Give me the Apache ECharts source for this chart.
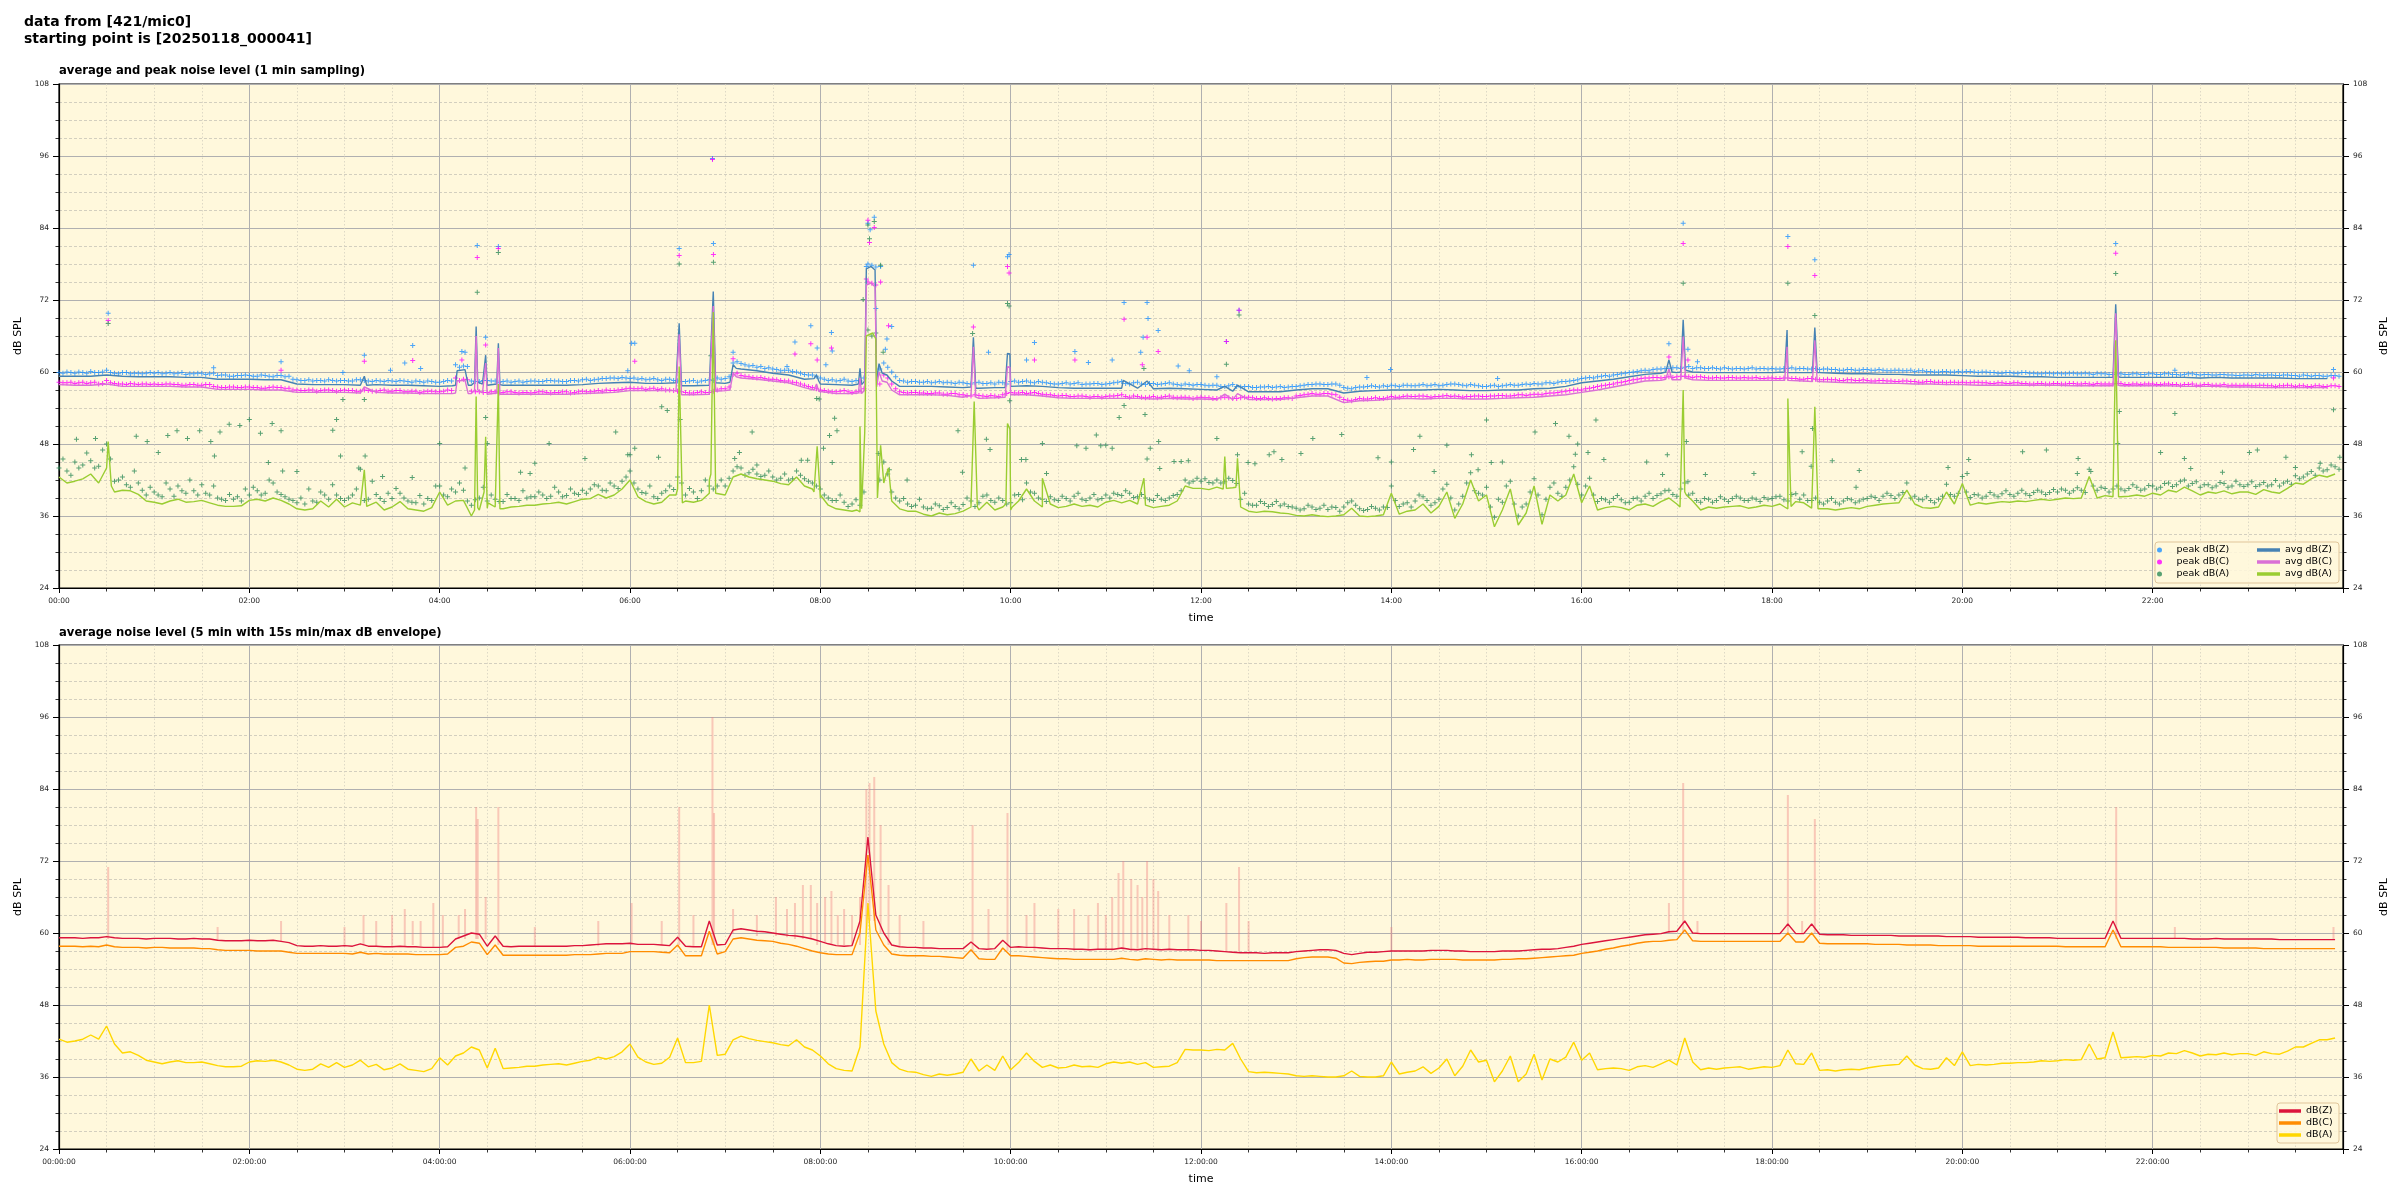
<!DOCTYPE html>
<html><head><meta charset="utf-8">
<script src="https://cdn.jsdelivr.net/npm/echarts@6/dist/echarts.min.js"></script>
<style>html,body{margin:0;padding:0;background:#fff}#c{width:2400px;height:1200px}</style>
</head><body><div id="c"></div><script>
// ---------- DATA (time in minutes from 00:00) ----------
// top chart: 1-min averages, read at 10-min steps (Z, C) and 5-min steps (A)
const avgZ10 = [
59.3,59.3,59.3,59.5,59.3,59.2, 59.2,59.2,59.1,59.1,58.8,58.8, 58.8,58.7,58.7,58.0,57.9,57.9, 57.9,57.8,57.9,57.8,57.8,57.7,
57.6,57.8,57.8,57.8,57.8,57.8, 57.8,57.8,57.8,57.9,58.1,58.2, 58.3,58.1,58.1,57.9,57.7,57.8, 58.1,60.5,60.2,59.8,59.5,58.8,
58.0,57.9,57.8,77.5,59.7,57.6, 57.6,57.6,57.5,57.4,57.3,57.4, 57.6,57.7,57.6,57.4,57.3,57.3, 57.3,57.3,57.3,57.2,57.3,57.2,
57.1,57.0,56.8,56.7,56.7,56.7, 57.0,57.2,57.2,56.5,56.8,56.9, 57.0,57.0,57.0,57.1,57.0,56.9, 56.9,57.0,57.0,57.2,57.3,57.6,
58.2,58.5,58.8,59.2,59.6,59.8, 59.9,60.0,59.9,59.9,59.9,59.9, 59.9,59.9,59.9,59.9,59.8,59.7, 59.7,59.6,59.6,59.5,59.5,59.5,
59.4,59.3,59.3,59.3,59.2,59.2, 59.1,59.1,59.1,59.1,59.1,59.1, 59.1,59.1,59.1,59.0,59.1,59.0, 59.0,59.0,59.0,58.9,58.9,58.9];
const spikesZ = [[31,59.8],[191,57.9],[192.5,59.3],[194,57.8],
[248,57.7],[251,60.2],[256,60.4],[258,57.8],[262,58.3],[263,67.6],[264,58.3],[267,58.0],[269,62.8],[270.5,57.9],[276,58.0],[277,64.8],[278,57.9],
[389,58.2],[391,68.1],[392.5,57.7],[411,58.0],[412.5,73.4],[414,58.2],[423,58.3],[425,61.2],[427,60.6],[476,58.9],[477.6,59.5],[479,58.5],
[504,58.0],[505,60.6],[506,57.9],[508,58.5],[509,77.2],[512,77.6],[514.5,77.0],[515.5,58.5],[517,61.4],[519,59.8],[522,59.5],[525,58.5],
[575,57.5],[576.5,65.8],[578,57.3],[596.5,57.4],[598,63.1],[599.5,63.0],[601,57.6],[671,58.6],[686,58.5],[735,57.6],[743,57.8],
[1013,60.0],[1015,62.0],[1017,60.0],[1022.5,60.0],[1024,68.7],[1025.5,60.3],[1088,60.0],[1089.5,67.0],[1091,60.0],[1105.5,59.9],[1107,67.4],[1108.5,59.9],
[1295,59.1],[1296.7,71.3],[1298.5,59.2]];
const avgC10 = [
57.9,57.8,57.8,58.0,57.6,57.6, 57.6,57.6,57.5,57.5,57.1,57.1, 57.1,57.0,57.0,56.6,56.6,56.6, 56.6,56.5,56.6,56.5,56.5,56.4,
56.4,56.5,56.4,56.3,56.3,56.3, 56.3,56.3,56.3,56.4,56.5,56.6, 56.9,56.9,56.9,56.6,56.2,56.3, 56.9,59.0,58.8,58.5,58.2,57.4,
56.6,56.4,56.4,74.6,58.5,56.2, 56.2,56.2,56.1,55.8,55.6,55.7, 56.2,56.2,56.0,55.7,55.6,55.6, 55.6,55.6,55.6,55.5,55.6,55.5,
55.5,55.4,55.4,55.4,55.4,55.4, 55.7,56.0,56.0,54.9,55.2,55.3, 55.5,55.6,55.5,55.6,55.6,55.5, 55.5,55.6,55.7,55.8,56.0,56.2,
56.6,57.0,57.5,58.0,58.5,58.6, 58.7,58.7,58.6,58.6,58.6,58.6, 58.6,58.6,58.5,58.4,58.3,58.2, 58.2,58.1,58.1,58.0,58.0,57.9,
57.9,57.8,57.8,57.8,57.8,57.8, 57.8,57.7,57.7,57.7,57.7,57.7, 57.7,57.7,57.6,57.6,57.6,57.5, 57.5,57.4,57.4,57.4,57.4,57.4];
const spikesC = [[31,58.3],[192.5,57.5],
[248,56.4],[251,58.5],[256,58.6],[258,56.4],[262,57.0],[263,66.0],[264,57.0],[267,56.5],[269,61.5],[270.5,56.4],[276,56.5],[277,64.0],[278,56.3],
[389,56.9],[391,66.3],[392.5,56.2],[411,56.5],[412.5,71.0],[414,56.8],[423,57.0],[425,59.8],[427,59.2],[476,57.0],[477.6,58.0],[479,56.8],
[504,56.5],[505,59.0],[506,56.4],[508,57.0],[509,74.5],[512,74.8],[514.5,74.2],[515.5,57.5],[517,60.0],[519,58.5],[522,58.3],[525,57.0],
[575,56.1],[576.5,64.2],[578,55.8],[596.5,55.8],[598,60.9],[599.5,60.8],[601,56.2],[735,56.3],[743,56.4],
[1013,58.8],[1015,60.5],[1017,58.7],[1022.5,58.7],[1024,65.9],[1025.5,59.0],[1088,58.6],[1089.5,64.2],[1091,58.6],[1105.5,58.4],[1107,65.3],[1108.5,58.4],
[1295,57.7],[1296.7,69.8],[1298.5,57.8]];
const avgA5 = [
42.5,41.5,41.8,42.2,43.0,41.5,44.0,40.0,40.3,40.2,39.6,38.5,
38.3,38.0,38.5,38.8,38.3,38.4,38.6,38.2,37.8,37.6,37.6,37.7,
38.6,38.8,38.5,39.0,38.6,38.0,37.2,37.0,37.2,38.5,37.5,38.8,
37.5,38.2,37.8,37.6,38.3,37.0,37.5,38.4,37.2,37.0,36.8,37.4,
40.0,37.8,38.5,38.6,36.0,37.0,37.3,37.5,37.2,37.5,37.6,37.8,
37.8,38.0,38.1,38.3,38.0,38.4,38.8,38.9,39.6,39.0,39.5,40.5,
42.0,39.2,38.4,38.0,38.3,39.5,40.5,38.5,38.3,38.6,39.8,39.5,
39.5,42.5,43.0,42.5,42.2,42.0,41.8,41.4,41.2,42.5,41.0,40.5,
39.0,37.8,37.2,37.0,36.8,36.7,66.2,65.5,41.5,38.5,37.2,36.8,
36.8,36.3,36.0,36.5,36.2,36.4,36.8,37.5,37.0,38.3,37.0,37.5,
37.0,38.5,40.5,38.5,37.5,38.0,37.4,37.6,38.0,37.6,37.8,37.5,
38.3,38.6,38.2,38.6,38.0,37.8,37.4,37.6,37.8,38.5,41.0,40.6,
40.6,40.4,40.8,40.6,40.7,37.5,36.8,36.6,36.8,36.7,36.5,36.4,
36.1,36.0,36.2,36.0,35.9,36.0,36.2,37.3,36.0,35.9,36.0,36.2,
39.8,36.3,36.8,37.0,38.0,36.5,37.6,40.0,35.6,38.0,42.0,38.5,
39.5,34.2,37.0,40.5,34.5,36.5,41.0,34.6,39.5,38.5,39.5,43.0,
38.2,41.0,37.0,37.4,37.6,37.4,37.0,37.8,38.0,37.6,38.4,39.0,
38.0,40.0,38.5,37.0,37.5,37.3,37.5,37.6,37.7,37.3,37.5,37.8,
37.6,38.0,37.2,38.4,38.2,37.3,37.0,37.2,37.0,37.2,37.4,37.2,
37.6,37.8,38.0,38.1,38.2,40.3,38.0,37.4,37.3,37.5,40.0,38.0,
41.4,37.8,38.2,38.0,38.2,38.4,38.3,38.5,38.4,38.6,38.8,38.6,
38.8,39.0,38.9,39.0,42.6,39.0,39.4,39.2,39.2,39.3,39.5,39.3,
39.8,39.5,40.3,40.0,40.8,40.2,39.5,40.0,39.8,40.2,39.7,40.0,
40.0,39.6,40.4,40.0,39.8,40.6,41.5,41.3,42.2,42.8,42.5,43.0];
const spikesA = [[31,48.4],[33,41.0],[191,37.8],[192.5,43.7],[194,37.6],
[262,37.0],[263,55.9],[264,37.4],[268,40.0],[269,49.2],[270.5,38.2],[276,37.5],[277,58.0],[278,37.2],
[389,39.5],[391,60.9],[393,38.2],[410,42.0],[411,43.0],[412.5,70.0],[414,39.8],[476,40.0],[478,47.6],[480,39.5],
[503,37.0],[505,50.9],[506,37.2],[508,50.0],[509,66.0],[513,66.5],[515,65.8],[516,39.0],[518,47.8],[521,42.5],[523,44.0],
[575,38.0],[577,55.1],[579,37.5],[597,38.0],[598,51.4],[599.5,50.5],[601,37.5],[620,42.3],[684,42.3],
[734,40.5],[735,45.9],[736,40.6],[742,40.8],[743,45.6],[745,37.5],[1022,37.5],[1024,57.0],[1026,39.5],
[1088,37.5],[1090,55.6],[1092,37.6],[1105,37.5],[1107,54.2],[1109,37.2],[1295,39.3],[1296.7,65.3],[1298.5,39.2]];

// peak levels, read at 5-min steps (minute 0,5,10,..) and in between (2.5,7.5,..), plus isolated high readings
const peakZ5 = [
59.9,60.0,59.8,59.9,60.1,59.9,60.3,59.8,59.9,59.7,59.8,59.8,
59.8,59.7,59.9,59.8,59.6,59.7,59.8,59.7,59.4,59.5,59.3,59.4,
59.4,59.3,59.4,59.2,59.4,59.3,58.7,58.6,58.5,58.6,58.7,58.5,
58.6,58.5,58.7,58.5,58.6,58.4,58.5,58.6,58.4,58.5,58.3,58.4,
58.3,58.6,61.2,61.0,58.5,58.4,58.6,58.5,58.4,58.3,58.5,58.4,
58.5,58.4,58.6,58.5,58.4,58.6,58.7,58.6,58.8,58.9,59.0,59.1,
58.9,58.8,58.7,58.9,58.6,58.8,58.5,58.4,58.6,58.5,58.7,59.0,
58.9,61.5,61.4,61.0,60.8,60.6,60.5,60.2,60.3,60.0,59.6,59.5,
59.0,58.6,58.5,58.8,58.4,58.5,78.0,77.5,61.5,60.0,58.6,58.3,
58.4,58.3,58.2,58.4,58.3,58.1,58.2,58.0,58.3,58.1,58.0,58.2,
58.4,58.3,58.5,58.2,58.3,58.1,58.0,58.2,58.1,57.9,58.0,58.1,
58.0,58.2,58.4,58.0,58.3,57.9,58.1,58.0,58.2,57.9,58.0,57.8,
57.9,57.7,57.8,57.6,57.9,57.5,57.6,57.4,57.5,57.4,57.6,57.5,
57.6,57.8,57.9,58.0,57.9,58.0,57.4,57.2,57.5,57.6,57.6,57.7,
57.8,57.6,57.8,57.7,57.9,57.8,57.7,57.9,58.0,57.8,57.9,57.7,
57.6,57.8,57.7,57.9,57.8,58.0,58.1,58.0,58.2,58.3,58.4,58.6,
58.9,59.1,59.2,59.4,59.5,59.7,59.9,60.1,60.3,60.4,60.5,60.6,
60.7,60.8,60.6,60.7,60.6,60.6,60.7,60.5,60.6,60.6,60.5,60.6,
60.6,60.5,60.6,60.5,60.6,60.5,60.4,60.5,60.4,60.3,60.4,60.3,
60.4,60.3,60.3,60.2,60.3,60.2,60.1,60.2,60.1,60.0,60.1,60.0,
60.0,60.1,59.9,60.0,59.9,59.8,59.9,59.8,59.9,59.8,59.7,59.8,
59.8,59.7,59.8,59.7,59.7,59.8,59.7,59.6,59.7,59.6,59.7,59.6,
59.7,59.6,59.7,59.6,59.6,59.7,59.5,59.6,59.5,59.6,59.5,59.4,
59.5,59.6,59.4,59.5,59.4,59.5,59.4,59.5,59.3,59.4,59.3,59.4];
const peakZ5b = [
59.8,59.9,60.0,59.8,59.9,60.0,59.9,59.7,59.9,59.8,59.7,59.9,
59.9,59.8,59.7,59.9,59.7,59.8,59.6,59.8,59.5,59.3,59.4,59.5,
59.3,59.5,59.3,59.4,59.2,58.8,58.6,58.7,58.6,58.5,58.6,58.6,
58.5,58.7,58.6,58.4,58.5,58.6,58.4,58.5,58.3,58.4,58.5,58.3,
58.4,58.5,60.8,60.9,58.4,58.6,58.5,58.3,58.5,58.4,58.3,58.5,
58.4,58.6,58.5,58.4,58.6,58.5,58.8,58.7,58.9,59.0,58.9,59.0,
59.0,58.9,58.8,58.7,58.8,58.6,58.4,58.5,58.3,58.6,58.6,58.8,
59.2,61.7,61.2,61.1,60.9,60.7,60.4,60.3,60.1,59.8,59.5,59.3,
58.8,58.7,58.6,58.5,58.6,59.0,77.8,60.5,60.8,59.2,58.5,58.4,
58.3,58.4,58.3,58.2,58.2,58.3,58.1,58.2,58.1,58.2,58.3,58.0,
58.5,58.4,58.3,58.4,58.2,58.0,58.1,58.0,58.2,58.0,58.1,57.9,
58.1,58.3,58.1,58.2,58.0,58.1,57.9,58.1,58.0,57.8,57.9,57.9,
57.8,57.8,57.6,57.7,57.6,57.6,57.4,57.5,57.6,57.5,57.4,57.6,
57.7,57.9,58.0,57.9,58.0,57.8,57.3,57.4,57.5,57.7,57.5,57.6,
57.7,57.8,57.7,57.8,57.7,57.9,57.8,58.0,57.9,57.7,57.8,57.6,
57.7,57.6,57.8,57.8,57.9,57.9,58.0,58.2,58.1,58.4,58.5,58.7,
59.0,59.0,59.3,59.3,59.6,59.8,60.0,60.2,60.2,60.5,60.6,60.7,
60.6,60.9,60.7,60.6,60.7,60.5,60.6,60.6,60.5,60.7,60.6,60.5,
60.5,60.6,60.7,60.6,60.5,60.6,60.5,60.4,60.3,60.4,60.3,60.4,
60.3,60.4,60.2,60.3,60.2,60.3,60.2,60.1,60.0,60.1,60.0,60.1,
60.1,60.0,60.0,59.9,59.8,59.9,59.8,59.9,59.8,59.7,59.8,59.7,
59.7,59.8,59.7,59.8,59.6,59.7,59.6,59.7,59.6,59.7,59.6,59.7,
59.6,59.7,59.6,59.5,59.7,59.6,59.6,59.5,59.6,59.5,59.4,59.5,
59.4,59.5,59.5,59.4,59.5,59.4,59.3,59.4,59.4,59.3,59.4,59.3];
const peakZx = [[31,69.8],[97.5,60.7],[140,61.7],[179,59.9],[192.5,62.8],[209,60.3],[218,61.5],[223,64.4],[228,60.6],[254,63.4],[256,63.3],[263.7,81.1],[269,65.8],[277,80.9],[358.6,60.2],[361,64.8],
[363,64.8],[391,80.6],[412,95.6],[412.6,81.4],[425,63.3],[459,60.9],[464,65.0],[474,67.7],[478,64.0],[483.5,61.2],[487,66.6],[487.5,63.5],[509,77.6],[510,84.8],[511.4,83.7],[514,85.8],[515,70.6],[518,77.6],[521,63.8],[522,65.5],[525,67.6],
[576.5,77.8],[586,63.3],[598,79.2],[599,79.6],[610,62.0],[615,64.9],[640.5,63.4],[649,61.6],[664,62.0],[671.5,71.6],[682,63.3],[683.5,65.8],[686,71.6],[686.6,68.9],[693,66.9],[705.6,61.0],[712.6,60.2],
[730,59.2],[736,65.1],[744,70.3],[824.6,59.1],[839.5,60.4],[907,58.9],[1015,64.7],[1024,84.8],[1027,63.8],[1033,61.7],[1090,82.6],[1107,78.7],[1296.7,81.4],[1334,60.3],[1434,60.4]];
const peakC5 = [
58.3,58.2,58.1,58.3,58.2,58.0,58.6,58.1,58.0,58.1,57.9,58.0,
58.0,57.9,58.0,57.9,57.8,57.9,57.8,57.9,57.5,57.4,57.5,57.4,
57.5,57.4,57.3,57.5,57.4,57.3,57.0,56.9,57.0,56.9,57.0,56.8,
57.0,56.9,56.8,56.9,56.8,57.0,56.8,56.9,56.7,56.8,56.7,56.8,
56.7,57.0,59.0,58.8,56.8,56.7,56.6,56.7,56.6,56.7,56.5,56.6,
56.6,56.7,56.5,56.6,56.7,56.6,56.8,56.7,56.9,57.0,56.9,57.1,
57.3,57.2,57.1,57.3,57.2,57.0,56.8,56.6,56.5,56.7,56.6,57.0,
57.2,59.6,59.4,59.2,59.0,58.9,58.8,58.6,58.5,58.2,57.8,57.4,
57.0,56.8,56.7,56.9,56.6,56.8,75.0,74.5,59.5,58.0,56.7,56.5,
56.6,56.5,56.4,56.5,56.3,56.4,56.2,56.0,56.1,55.9,56.0,56.2,
56.6,56.5,56.4,56.6,56.3,56.2,56.0,56.1,55.9,56.0,55.8,55.9,
55.9,56.0,56.2,55.8,55.9,55.7,55.9,55.8,56.0,55.7,55.8,55.6,
55.8,55.7,55.6,55.8,55.6,55.7,55.8,55.6,55.7,55.5,55.6,55.7,
56.0,56.2,56.4,56.3,56.4,56.2,55.4,55.2,55.6,55.5,55.7,55.6,
55.9,55.8,56.0,55.9,56.0,55.8,55.9,56.1,56.0,55.8,55.9,56.0,
55.9,56.0,56.1,56.0,56.2,56.1,56.3,56.2,56.5,56.6,56.8,57.0,
57.0,57.3,57.6,57.8,58.0,58.3,58.6,58.8,59.0,59.1,59.0,59.2,
59.2,59.3,59.1,59.2,59.0,59.1,59.0,59.1,59.0,59.0,59.1,58.9,
59.0,58.9,59.0,58.9,58.8,58.9,58.7,58.8,58.7,58.6,58.7,58.6,
58.6,58.5,58.6,58.5,58.4,58.5,58.4,58.3,58.4,58.3,58.2,58.3,
58.3,58.2,58.3,58.2,58.1,58.2,58.1,58.2,58.1,58.0,58.1,58.0,
58.1,58.0,58.1,58.0,58.0,58.1,58.0,58.0,58.1,57.9,58.0,58.0,
58.0,57.9,58.0,57.9,57.9,58.0,57.8,57.9,57.8,57.9,57.8,57.7,
57.8,57.7,57.8,57.7,57.7,57.8,57.6,57.7,57.6,57.7,57.6,57.7];
const peakC5b = [
58.2,58.3,58.2,58.1,58.3,58.1,58.2,58.0,57.9,58.0,58.0,57.9,
57.9,58.0,57.9,57.8,57.9,57.8,57.9,57.6,57.4,57.5,57.4,57.5,
57.4,57.3,57.4,57.4,57.2,57.0,56.9,57.0,56.8,57.0,56.9,56.9,
56.9,56.8,57.0,56.8,56.9,56.8,56.9,56.7,56.8,56.6,56.8,56.7,
56.8,56.9,58.6,58.7,56.7,56.6,56.7,56.5,56.7,56.6,56.6,56.5,
56.7,56.6,56.6,56.7,56.5,56.7,56.7,56.8,56.8,56.9,57.0,57.2,
57.2,57.3,57.2,57.1,57.0,56.9,56.7,56.5,56.6,56.6,56.8,57.2,
57.5,59.8,59.3,59.1,59.1,58.8,58.7,58.5,58.3,58.0,57.6,57.2,
56.9,56.7,56.8,56.7,56.7,57.2,74.8,58.0,59.0,57.2,56.6,56.6,
56.5,56.4,56.5,56.3,56.4,56.2,56.1,56.2,56.0,56.1,55.9,56.4,
56.5,56.6,56.5,56.4,56.2,56.1,56.1,55.9,56.0,55.9,55.9,55.8,
56.0,56.1,55.9,56.0,55.8,55.8,55.7,55.9,55.8,55.8,55.7,55.7,
55.7,55.6,55.7,55.7,55.6,55.8,55.7,55.6,55.6,55.6,55.7,55.6,
56.1,56.3,56.3,56.4,56.3,55.8,55.3,55.4,55.5,55.6,55.6,55.7,
55.8,55.9,55.9,56.0,55.9,55.9,56.0,55.9,55.9,55.9,56.0,55.9,
56.0,56.1,56.0,56.1,56.2,56.2,56.3,56.4,56.5,56.7,56.9,57.0,
57.2,57.4,57.7,57.9,58.2,58.4,58.7,58.9,59.0,59.1,59.1,59.1,
59.3,59.2,59.2,59.1,59.0,59.0,59.1,59.0,59.1,59.0,58.9,59.0,
58.9,59.0,58.9,58.8,58.9,58.8,58.7,58.7,58.6,58.7,58.6,58.7,
58.5,58.6,58.5,58.4,58.5,58.4,58.3,58.4,58.3,58.3,58.3,58.2,
58.2,58.3,58.2,58.1,58.2,58.1,58.2,58.1,58.0,58.1,58.0,58.1,
58.0,58.1,58.0,58.1,57.9,58.0,58.0,58.1,57.9,58.0,57.9,58.0,
57.9,58.0,57.9,57.8,57.9,57.8,57.9,57.8,57.8,57.7,57.8,57.8,
57.7,57.8,57.7,57.6,57.7,57.7,57.7,57.6,57.7,57.6,57.7,57.6];
const peakCx = [[31,68.6],[140,60.3],[192.5,61.8],[223,61.9],[254,62.0],[263.7,79.1],[269,64.5],[277,80.6],
[363,61.8],[391,79.4],[412,95.4],[412.6,79.6],[425,62.2],[464,63.0],[474,64.7],[478,62.0],[487,64.0],[509,75.5],[510,85.3],[511,81.6],[514,84.1],[518,75.0],[523,67.7],
[576.5,67.5],[598,77.6],[599,76.5],[615,62.0],[640.5,62.0],[671.5,68.8],[683,61.2],[686,65.8],[693,63.4],
[736,65.1],[744,70.3],[1015,62.5],[1024,81.4],[1027,62.0],[1090,80.9],[1107,76.1],[1296.7,79.8],[1434,59.0]];
const peakA5 = [
44.0,43.5,45.0,44.5,45.2,44.3,48.0,41.8,42.5,40.8,41.5,39.5,
40.0,39.2,40.5,41.0,39.8,40.2,41.2,39.5,39.0,38.6,38.8,38.5,
39.5,40.2,39.8,41.5,39.6,38.8,38.2,38.0,38.5,40.0,38.8,39.5,
38.6,39.5,43.8,38.8,39.6,38.4,38.9,39.8,38.5,38.2,38.0,38.6,
41.0,39.2,40.0,40.3,37.8,39.0,38.5,38.8,38.4,38.9,38.6,39.0,
39.2,39.5,39.3,40.0,39.4,39.8,40.3,40.5,41.0,40.2,41.0,41.8,
43.5,40.5,39.8,39.2,39.8,41.0,42.5,39.5,40.0,40.2,41.0,41.0,
41.0,43.5,44.0,43.2,43.0,42.8,42.5,42.3,42.0,43.5,42.2,41.5,
40.5,39.0,38.6,38.3,38.0,37.8,67.0,66.5,45.0,40.0,38.5,38.0,
37.8,37.5,37.3,37.7,37.4,37.6,37.9,38.5,38.2,39.5,38.3,38.6,
38.2,39.6,41.5,39.8,38.8,39.2,38.6,38.9,39.3,38.8,39.0,38.7,
39.5,39.8,39.4,39.8,39.2,39.0,38.6,38.8,39.0,39.6,42.0,41.8,
41.8,41.6,42.0,41.7,41.9,38.8,38.0,37.8,38.1,37.9,37.7,37.6,
37.3,37.2,37.5,37.3,37.1,37.4,37.5,38.5,37.2,37.1,37.3,37.5,
41.0,37.6,38.2,38.5,39.2,37.8,38.8,41.3,37.0,39.3,43.2,39.8,
40.8,35.8,38.3,41.8,36.0,38.0,42.2,36.2,40.8,39.8,40.8,44.2,
39.5,42.3,38.4,38.7,38.9,38.7,38.3,39.0,39.3,38.9,39.7,40.3,
39.3,41.5,39.8,38.3,38.8,38.6,38.8,38.9,39.0,38.6,38.8,39.1,
38.9,39.3,38.5,39.7,39.5,38.6,38.3,38.5,38.3,38.5,38.7,38.5,
38.9,39.1,39.3,39.4,39.5,41.5,39.3,38.7,38.6,38.8,41.3,39.3,
42.6,39.1,39.5,39.3,39.5,39.7,39.6,39.8,39.7,39.9,40.0,39.9,
40.0,40.3,40.2,40.3,43.8,40.3,40.6,40.5,40.5,40.6,40.8,40.5,
41.0,40.8,41.5,41.2,42.0,41.4,40.8,41.2,41.0,41.4,41.0,41.2,
41.2,40.9,41.6,41.2,41.0,41.8,42.7,42.5,43.4,44.0,43.7,44.2];
const peakA5b = [
45.5,42.8,44.0,46.5,44.0,47.0,45.5,42.0,41.2,43.5,40.3,40.8,
39.5,41.5,39.3,40.2,42.0,39.5,39.8,41.0,38.8,39.6,39.2,40.5,
40.8,39.5,42.0,40.0,39.2,38.6,39.0,40.5,38.3,39.5,41.2,38.9,
39.0,40.5,38.6,41.8,38.9,39.8,40.6,39.0,38.3,39.4,38.9,41.0,
39.5,40.5,41.5,38.5,38.7,40.8,39.5,38.4,39.6,38.9,40.2,39.2,
40.0,38.9,40.8,39.2,40.5,39.6,39.8,41.2,40.3,41.5,40.6,42.5,
41.5,39.9,41.0,38.9,40.2,40.4,41.5,40.6,38.9,42.0,40.5,42.0,
42.3,44.2,42.8,43.8,42.6,43.5,42.0,43.0,42.2,42.8,41.8,41.0,
39.5,38.6,39.5,37.6,38.7,40.0,66.0,42.0,43.0,39.0,38.9,37.6,
38.8,37.2,38.0,37.1,38.2,37.2,39.0,37.6,39.3,38.6,39.0,38.0,
39.5,38.7,40.0,39.0,38.4,38.7,39.3,38.5,39.8,38.6,39.6,38.9,
39.0,39.6,40.2,39.1,39.6,38.7,39.4,38.6,39.4,40.2,41.5,42.3,
42.2,41.5,41.5,42.3,41.4,39.8,37.8,38.4,37.6,38.4,38.0,37.5,
37.0,37.8,37.1,37.8,37.5,36.8,38.2,37.8,36.9,37.6,37.0,37.4,
38.6,38.0,37.5,39.5,38.6,38.2,40.5,39.0,38.0,41.5,40.2,39.5,
37.5,38.8,41.0,38.0,37.5,40.0,39.5,38.8,41.5,39.3,42.0,41.3,
41.0,39.5,38.9,38.3,39.4,38.2,38.9,38.5,39.8,39.4,40.2,39.6,
40.5,39.5,38.6,38.9,38.3,39.2,38.4,39.3,38.6,39.0,38.4,38.8,
39.2,38.7,39.6,38.8,38.6,39.0,38.0,38.9,38.0,38.9,38.2,38.8,
39.3,38.6,39.8,38.9,39.9,39.0,38.8,39.2,38.2,39.3,39.6,39.8,
40.0,39.6,39.0,39.9,39.2,40.2,39.3,40.3,39.4,40.3,39.6,40.4,
40.5,39.8,40.7,39.9,41.0,40.8,40.0,41.0,40.2,41.2,40.3,41.1,
40.5,41.4,40.9,41.8,41.0,41.7,41.2,40.7,41.6,40.8,41.8,40.9,
41.7,41.2,41.0,41.9,41.5,41.3,42.2,43.0,42.8,43.5,44.5,43.8];
const peakAx = [[11,48.8],[23,48.9],[31,68.1],[48.7,49.3],[55.6,48.4],[62.6,46.6],[68.6,49.4],[74.4,50.2],[81,48.9],[88.7,50.2],[95.7,48.4],[98,46],[101.5,50],[107.3,51.3],[114,51.1],[120,52.1],[127,49.8],[134.4,51.4],[140,50.2],[132,44.9],[141,43.5],[150,43.4],
[172.6,50.3],[175,52.1],[179,55.4],[177.5,46],[192.5,55.4],[193,46],[189,44],[204,42.6],[222.7,42.4],[240,48.1],[256,44],[263.7,73.3],[269,52.4],[270,48.1],[277,79.9],[300,44.8],[309,48.1],[291,43.3],[297,43.1],[331.6,45.6],[351,50],[358.6,46.2],
[360,46.2],[363,47.3],[378,45.8],[380,54.2],[383.5,53.6],[391,78],[391.6,52.1],[411,62.7],[412.6,78.3],[426,45.6],[429,46.6],[437,50],[440,44.5],[468,45.3],[472,45.3],[477.7,55.6],[479.3,55.5],[482,47.3],[485.8,49.4],[489,52.3],[490.5,50.2],[487.5,44.9],
[507,72.1],[510,84.5],[511,82.2],[514,85.1],[518,77.8],[519.6,63.3],[516.5,46.4],[523.5,43.7],[534.7,42],[566.8,50.2],[569.6,43.3],[576,66.4],[584.7,48.8],[587,47.1],[598,71.4],[599,71],[599.4,55.2],[606.8,45.4],[609.6,45.4],[620,48.1],[622.6,43.1],
[641.7,47.7],[647.5,47.3],[654,49.5],[656.8,47.7],[660,47.8],[664,47.3],[668.4,52.4],[671.5,54.4],[684,60.6],[684.7,52.9],[686,45.5],[688,47.3],[693.3,48.4],[694,43.9],[703,45.1],[707.5,45.1],[712,45.2],
[730,48.9],[736,61.3],[744,69.5],[743,46.2],[749.7,44.9],[754,44.7],[763,46.2],[766,46.7],[771,45.4],[783,46.4],[790.5,48.9],[808.7,49.6],[831.6,45.7],[840,45],[854,47.1],[858,49.3],[867,43.4],[875,47.8],[890.5,46.2],[894.7,43.7],[900,52],[903,44.9],[910,45],
[930.6,50],[943.5,51.4],[952,49.3],[956,46.3],[957.5,48],[964,46.6],[969,52],[974,45.4],[1001,45],[1011,42.9],[1014,46.2],[1024,74.8],[1026,48.4],[1027,41.7],[1038,42.9],[1068.6,43.1],
[1090,74.8],[1099,46.7],[1107,69.4],[1105.6,50.6],[1104.7,44.3],[1118,45.2],[1135,43.6],[1133,40.8],[1191,44.1],[1204,45.4],[1203,43.1],[1238,46.7],[1253,47],[1273,45.6],[1272.5,43.1],[1281,43.4],
[1296.7,76.4],[1299,53.4],[1298,48.1],[1325,46.6],[1334,53.1],[1340,45.6],[1344,43.9],[1364,43.3],[1381,46.6],[1386,47],[1404,45.8],[1410,44.1],[1425.6,44.8],[1434,53.7],[1438,45.8]];

// bottom chart: 5-min averages
const dbZ5 = [
59.2,59.2,59.2,59.1,59.2,59.2,59.4,59.2,59.1,59.1,59.1,59.0,
59.1,59.1,59.1,59.0,59.0,59.1,59.0,59.0,58.8,58.7,58.7,58.7,
58.8,58.7,58.7,58.8,58.6,58.4,57.9,57.8,57.8,57.9,57.8,57.8,
57.9,57.8,58.2,57.8,57.8,57.7,57.7,57.8,57.7,57.7,57.6,57.6,
57.6,57.7,59.0,59.5,60.0,59.8,57.8,59.5,57.8,57.7,57.8,57.8,
57.8,57.8,57.8,57.8,57.8,57.9,57.9,58.0,58.1,58.2,58.2,58.2,
58.3,58.1,58.1,58.1,58.0,57.9,59.3,57.8,57.7,57.7,62.0,58.0,
58.1,60.5,60.7,60.5,60.3,60.2,60.0,59.8,59.6,59.5,59.3,59.0,
58.6,58.2,57.9,57.8,57.9,62.0,76.0,63.0,60.0,58.0,57.7,57.6,
57.6,57.5,57.5,57.4,57.4,57.4,57.4,58.5,57.4,57.3,57.4,58.8,
57.6,57.7,57.6,57.6,57.5,57.4,57.4,57.4,57.3,57.3,57.2,57.3,
57.3,57.3,57.5,57.3,57.2,57.4,57.3,57.2,57.3,57.2,57.2,57.2,
57.1,57.1,57.0,56.9,56.8,56.7,56.7,56.7,56.6,56.7,56.7,56.7,
56.9,57.0,57.1,57.2,57.2,57.1,56.6,56.4,56.6,56.8,56.8,56.9,
57.0,57.0,57.0,57.0,57.0,57.1,57.1,57.1,57.0,57.0,56.9,56.9,
56.9,56.9,57.0,57.0,57.0,57.1,57.2,57.3,57.3,57.4,57.6,57.8,
58.1,58.3,58.5,58.7,58.9,59.1,59.3,59.5,59.7,59.8,59.9,60.2,
60.3,62.0,60.0,59.9,59.9,59.9,59.9,59.9,59.9,59.9,59.9,59.9,
59.9,59.9,61.5,59.9,59.9,61.5,59.8,59.7,59.7,59.7,59.6,59.6,
59.6,59.6,59.6,59.6,59.5,59.5,59.5,59.5,59.5,59.5,59.4,59.4,
59.4,59.4,59.3,59.3,59.3,59.3,59.3,59.3,59.2,59.2,59.2,59.2,
59.1,59.1,59.1,59.1,59.1,59.1,59.1,62.0,59.1,59.1,59.1,59.1,
59.1,59.1,59.1,59.1,59.1,59.0,59.0,59.0,59.1,59.0,59.0,59.0,
59.0,59.0,59.0,59.0,58.9,58.9,58.9,58.9,58.9,58.9,58.9,58.9];
const dbC5 = [
57.8,57.8,57.8,57.7,57.8,57.7,58.0,57.7,57.6,57.6,57.6,57.5,
57.6,57.6,57.5,57.5,57.5,57.5,57.4,57.4,57.2,57.1,57.1,57.1,
57.1,57.0,57.0,57.0,57.0,56.8,56.6,56.6,56.6,56.6,56.6,56.6,
56.6,56.5,56.8,56.5,56.6,56.5,56.5,56.5,56.5,56.4,56.4,56.4,
56.4,56.5,57.6,57.8,58.5,58.3,56.4,58.0,56.3,56.3,56.3,56.3,
56.3,56.3,56.3,56.3,56.3,56.4,56.4,56.4,56.5,56.6,56.6,56.6,
56.9,56.9,56.9,56.9,56.8,56.7,58.0,56.2,56.2,56.2,60.3,56.5,
56.9,59.0,59.2,59.0,58.8,58.7,58.6,58.3,58.1,57.8,57.4,57.0,
56.7,56.5,56.4,56.4,56.4,60.0,73.0,60.5,58.0,56.5,56.3,56.2,
56.2,56.2,56.1,56.1,56.0,55.9,55.8,57.2,55.7,55.6,55.6,57.5,
56.2,56.2,56.1,56.0,55.9,55.8,55.7,55.7,55.6,55.6,55.6,55.6,
55.6,55.6,55.8,55.6,55.5,55.7,55.6,55.5,55.6,55.5,55.5,55.5,
55.5,55.5,55.4,55.4,55.4,55.4,55.4,55.4,55.4,55.4,55.4,55.4,
55.7,55.9,56.0,56.0,56.0,55.8,55.0,54.9,55.1,55.2,55.3,55.3,
55.5,55.5,55.6,55.5,55.5,55.6,55.6,55.6,55.6,55.5,55.5,55.5,
55.5,55.5,55.6,55.6,55.7,55.7,55.8,55.9,56.0,56.1,56.2,56.3,
56.6,56.8,57.0,57.3,57.5,57.8,58.0,58.3,58.5,58.6,58.6,58.8,
58.9,60.5,58.7,58.6,58.6,58.6,58.6,58.6,58.6,58.6,58.6,58.6,
58.6,58.6,60.0,58.5,58.5,60.0,58.3,58.2,58.2,58.2,58.2,58.2,
58.2,58.1,58.1,58.1,58.1,58.0,58.0,58.0,58.0,57.9,57.9,57.9,
57.9,57.9,57.8,57.8,57.8,57.8,57.8,57.8,57.8,57.8,57.8,57.8,
57.8,57.7,57.7,57.7,57.7,57.7,57.7,60.5,57.7,57.7,57.7,57.7,
57.7,57.7,57.6,57.6,57.6,57.6,57.6,57.6,57.6,57.5,57.5,57.5,
57.5,57.5,57.4,57.4,57.4,57.4,57.4,57.4,57.4,57.4,57.4,57.4];
const dbA5 = [
42.3,41.8,42.0,42.3,43.0,42.3,44.5,41.5,40.0,40.2,39.6,38.8,
38.5,38.2,38.5,38.7,38.4,38.4,38.5,38.2,37.9,37.7,37.7,37.8,
38.5,38.7,38.6,38.8,38.5,38.0,37.3,37.1,37.3,38.2,37.6,38.4,
37.6,38.0,38.8,37.7,38.1,37.2,37.5,38.2,37.3,37.1,36.9,37.4,
39.2,38.0,39.5,40.0,41.0,40.5,37.5,40.8,37.4,37.5,37.6,37.8,
37.8,38.0,38.1,38.2,38.0,38.3,38.6,38.8,39.3,39.0,39.4,40.2,
41.5,39.3,38.5,38.1,38.3,39.3,42.5,38.4,38.4,38.6,48.0,39.6,
39.8,42.2,42.8,42.4,42.1,41.9,41.7,41.4,41.2,42.2,41.0,40.5,
39.5,38.2,37.4,37.1,37.0,41.0,65.0,47.0,41.5,38.4,37.3,36.9,
36.8,36.4,36.1,36.5,36.3,36.5,36.8,39.0,37.0,38.0,37.1,39.5,
37.2,38.4,40.0,38.6,37.6,38.0,37.5,37.6,38.0,37.7,37.8,37.6,
38.2,38.5,38.3,38.5,38.1,38.4,37.6,37.7,37.8,38.4,40.6,40.5,
40.5,40.4,40.6,40.5,41.6,39.0,36.9,36.7,36.8,36.7,36.6,36.5,
36.2,36.1,36.2,36.1,36.0,36.0,36.2,37.0,36.1,36.0,36.0,36.2,
38.5,36.5,36.8,37.0,37.7,36.6,37.5,39.0,36.2,37.8,40.5,38.5,
38.8,35.2,37.0,39.5,35.2,36.5,39.8,35.5,39.0,38.5,39.3,41.8,
38.8,40.0,37.2,37.4,37.5,37.4,37.1,37.7,37.9,37.6,38.2,38.8,
38.0,42.5,38.5,37.2,37.5,37.3,37.5,37.6,37.7,37.3,37.5,37.7,
37.6,37.9,40.5,38.2,38.1,40.0,37.1,37.2,37.0,37.2,37.3,37.2,
37.5,37.7,37.9,38.0,38.1,39.5,38.0,37.4,37.3,37.5,39.2,37.9,
40.2,37.9,38.1,38.0,38.1,38.3,38.3,38.4,38.4,38.5,38.7,38.6,
38.7,38.9,38.8,38.9,41.5,39.0,39.2,43.5,39.2,39.3,39.4,39.3,
39.6,39.5,40.0,39.9,40.4,40.0,39.5,39.8,39.7,40.0,39.7,39.9,
39.9,39.6,40.2,39.9,39.8,40.3,41.0,41.0,41.6,42.2,42.2,42.5];
// 15 s min/max envelope of dB(Z): [minute, min, max]
const envZ = [[31,59,71],[100,58.8,61],[140,58.6,62],[180,57.8,61],[192,58,63],[200,57.8,62],[210,57.8,63],[218,57.8,64],[223,58,62],[228,57.8,62],[236,57.7,65],[242,57.7,63],[252,59,63],[256,59,64],[263,59,81],[264,59,79],[269,59,66],[277,58,81],
[300,57.8,61],[340,57.8,62],[361,58,65],[380,58,62],[391,58,81],[400,57.8,63],[412,58,96],[413,58,80],[425,60,64],[440,59.5,63],[452,59.5,66],[459,59.3,64],[464,59,65],[469,59,68],[474,59,68],[478,58,65],[483,58.5,66],[487,58,67],[491,58,63],[495,58,64],[500,58,63],
[505,58,66],[509,60,84],[511,62,85],[514,62,86],[518,60,78],[523,58,68],[530,57.7,63],[545,57.6,62],
[576,57,78],[586,57.4,64],[598,57,80],[610,57.6,63],[615,57,65],[630,57.5,64],[640,57,64],[649,57,63],[655,57.3,65],[660,57.3,63],[664,57,66],[668,57.3,70],[671,57,72],[676,57,69],[680,57.3,68],[683,57,66],[686,57,72],[690,57.3,69],[693,57,67],[700,57.2,63],[712,57,63],[720,57.1,62],[736,57,65],[744,57,71],[750,56.9,62],
[840,57,61],[1015,60,65],[1024,60,85],[1033,60,62],[1090,60,83],[1099,60,62],[1107,60,79],[1297,59,81],[1334,59,61],[1434,59,61]];

const yTicks = [24,36,48,60,72,84,96,108];

// ---------- BUILD ----------
function series(vals, step, extra, offset){
  const o = offset || 0;
  const pts = vals.map((v,i)=>[i*step + o, v]);
  if (extra) extra.forEach(p=>pts.push(p));
  pts.sort((a,b)=>a[0]-b[0]);
  return pts;
}
function merge(){ const out=[]; for (const a of arguments) a.forEach(p=>out.push(p)); return out; }
const FONT = 'DejaVu Sans';
function fmtTime(v, sec){
  if (v % 120 !== 0 || v >= 1440) return '';
  const h = String(Math.floor(v/60)).padStart(2,'0');
  return sec ? h + ':00:00' : h + ':00';
}
function xAx(gi, sec){
  return { type:'value', gridIndex:gi, min:0, max:1440, interval:120,
    axisLine:{show:true, onZero:false, lineStyle:{color:'#000', width:1.2}},
    axisTick:{show:true, length:5, lineStyle:{color:'#000', width:1}},
    minorTick:{show:true, splitNumber:4, length:3.5, lineStyle:{color:'#000', width:0.8}},
    axisLabel:{fontSize:7.5, color:'#222', margin:9, fontFamily:FONT, formatter:v=>fmtTime(v, sec), showMinLabel:true, showMaxLabel:false},
    splitLine:{show:true, lineStyle:{color:'#b0b0b0', width:1}},
    minorSplitLine:{show:true, lineStyle:{color:'#d6d0c0', width:0.8, type:[1.5,2]}},
    name:'time', nameLocation:'middle', nameGap:25, nameTextStyle:{fontSize:11, color:'#000', fontFamily:FONT} };
}
function yAx(gi, pos, main){
  return { type:'value', gridIndex:gi, position:pos, min:24, max:108, interval:12,
    axisLine:{show:true, onZero:false, lineStyle:{color:'#000', width:1.2}},
    axisTick:{show:true, length:6, lineStyle:{color:'#000', width:1}},
    minorTick:{show:true, splitNumber:4, length:3.5, lineStyle:{color:'#000', width:0.8}},
    axisLabel:{fontSize:7.5, color:'#222', margin:10, fontFamily:FONT,
      formatter:v=> yTicks.indexOf(v) >= 0 ? String(v) : ''},
    splitLine:{show:main, lineStyle:{color:'#b0b0b0', width:1}},
    minorSplitLine:{show:main, lineStyle:{color:'#c8c4b8', width:0.8, type:[3,2]}},
    name:'dB SPL', nameLocation:'middle', nameRotate:90, nameGap: pos==='left'?34:32,
    nameTextStyle:{fontSize:11, color:'#000', fontFamily:FONT} };
}
const PLUS = 'path://M4,0H6V4H10V6H6V10H4V6H0V4H4Z';
function scat(name, data, color){
  return { name, type:'scatter', xAxisIndex:0, yAxisIndex:0, data, symbol:PLUS, symbolSize:5,
    itemStyle:{color}, z:2, silent:true };
}
function line(name, data, color, xi, yi, w){
  return { name, type:'line', xAxisIndex:xi, yAxisIndex:yi, data, showSymbol:false, symbol:'none',
    lineStyle:{color, width:w}, itemStyle:{color}, z:3, silent:true };
}
const gridBase = {show:true, backgroundColor:'#fff8dc', borderColor:'#000', borderWidth:1.2, left:59, width:2284, height:504, outerBoundsMode:'none', containLabel:false};
const legText = {fontSize:9.5, color:'#000', fontFamily:FONT, lineHeight:10};

const option = {
  animation:false,
  backgroundColor:'#fff',
  textStyle:{fontFamily:FONT},
  title:[
    {text:'data from [421/mic0]\nstarting point is [20250118_000041]', left:24, top:14, padding:0,
     textStyle:{fontSize:14, fontWeight:'bold', color:'#000', fontFamily:FONT, lineHeight:17}},
    {text:'average and peak noise level (1 min sampling)', left:59, top:65, padding:0,
     textStyle:{fontSize:11.6, fontWeight:'bold', color:'#000', fontFamily:FONT}},
    {text:'average noise level (5 min with 15s min/max dB envelope)', left:59, top:627, padding:0,
     textStyle:{fontSize:11.6, fontWeight:'bold', color:'#000', fontFamily:FONT}}
  ],
  grid:[Object.assign({top:84}, gridBase), Object.assign({top:645}, gridBase)],
  xAxis:[xAx(0,false), xAx(1,true)],
  yAxis:[yAx(0,'left',true), yAx(0,'right',false), yAx(1,'left',true), yAx(1,'right',false)],
  legend:[
    {orient:'vertical', left:2157, top:545, padding:0, itemWidth:24, itemHeight:5, itemGap:2, textStyle:legText,
     data:[{name:'peak dB(Z)',icon:'circle'},{name:'peak dB(C)',icon:'circle'},{name:'peak dB(A)',icon:'circle'}], selectedMode:false},
    {orient:'vertical', left:2257, top:545, padding:0, itemWidth:23, itemHeight:3.5, itemGap:2, textStyle:legText,
     data:[{name:'avg dB(Z)',icon:'rect'},{name:'avg dB(C)',icon:'rect'},{name:'avg dB(A)',icon:'rect'}], selectedMode:false},
    {orient:'vertical', left:2279, top:1106, padding:0, itemWidth:22, itemHeight:3.5, itemGap:2, textStyle:legText,
     data:[{name:'dB(Z)',icon:'rect'},{name:'dB(C)',icon:'rect'},{name:'dB(A)',icon:'rect'}], selectedMode:false}
  ],
  graphic:[
    {type:'rect', z:3, shape:{x:2155, y:542, width:184, height:41, r:3}, style:{fill:'rgba(255,248,220,0.85)', stroke:'#e0c59a', lineWidth:1}},
    {type:'rect', z:3, shape:{x:2277, y:1103, width:62, height:40, r:3}, style:{fill:'rgba(255,248,220,0.85)', stroke:'#e0c59a', lineWidth:1}}
  ],
  series:[
    scat('peak dB(Z)', merge(series(peakZ5,5), series(peakZ5b,5,null,2.5), peakZx), '#1e90ff'),
    scat('peak dB(C)', merge(series(peakC5,5), series(peakC5b,5,null,2.5), peakCx), '#ff00ff'),
    scat('peak dB(A)', merge(series(peakA5,5), series(peakA5b,5,null,2.5), peakAx), '#2e8b57'),
    line('avg dB(Z)', series(avgZ10,10,spikesZ), '#4682b4', 0, 0, 1.4),
    line('avg dB(C)', series(avgC10,10,spikesC), '#da70d6', 0, 0, 1.4),
    line('avg dB(A)', series(avgA5,5,spikesA), '#9acd32', 0, 0, 1.4),
    { type:'custom', name:'envelope', xAxisIndex:1, yAxisIndex:2, data:envZ, encode:{x:0, y:[1,2]}, z:1, silent:true,
      renderItem:(params, api)=>{
        const a = api.coord([api.value(0), api.value(1)]);
        const b = api.coord([api.value(0), api.value(2)]);
        return {type:'line', shape:{x1:a[0], y1:a[1], x2:b[0], y2:b[1]}, style:{stroke:'rgba(240,128,128,0.4)', lineWidth:2}};
      }},
    line('dB(Z)', series(dbZ5,5), '#dc143c', 1, 2, 1.4),
    line('dB(C)', series(dbC5,5), '#ff8c00', 1, 2, 1.4),
    line('dB(A)', series(dbA5,5), '#ffd700', 1, 2, 1.4)
  ]
};
const chart = echarts.init(document.getElementById('c'), null, {renderer:'canvas'});
chart.setOption(option);
</script></body></html>
